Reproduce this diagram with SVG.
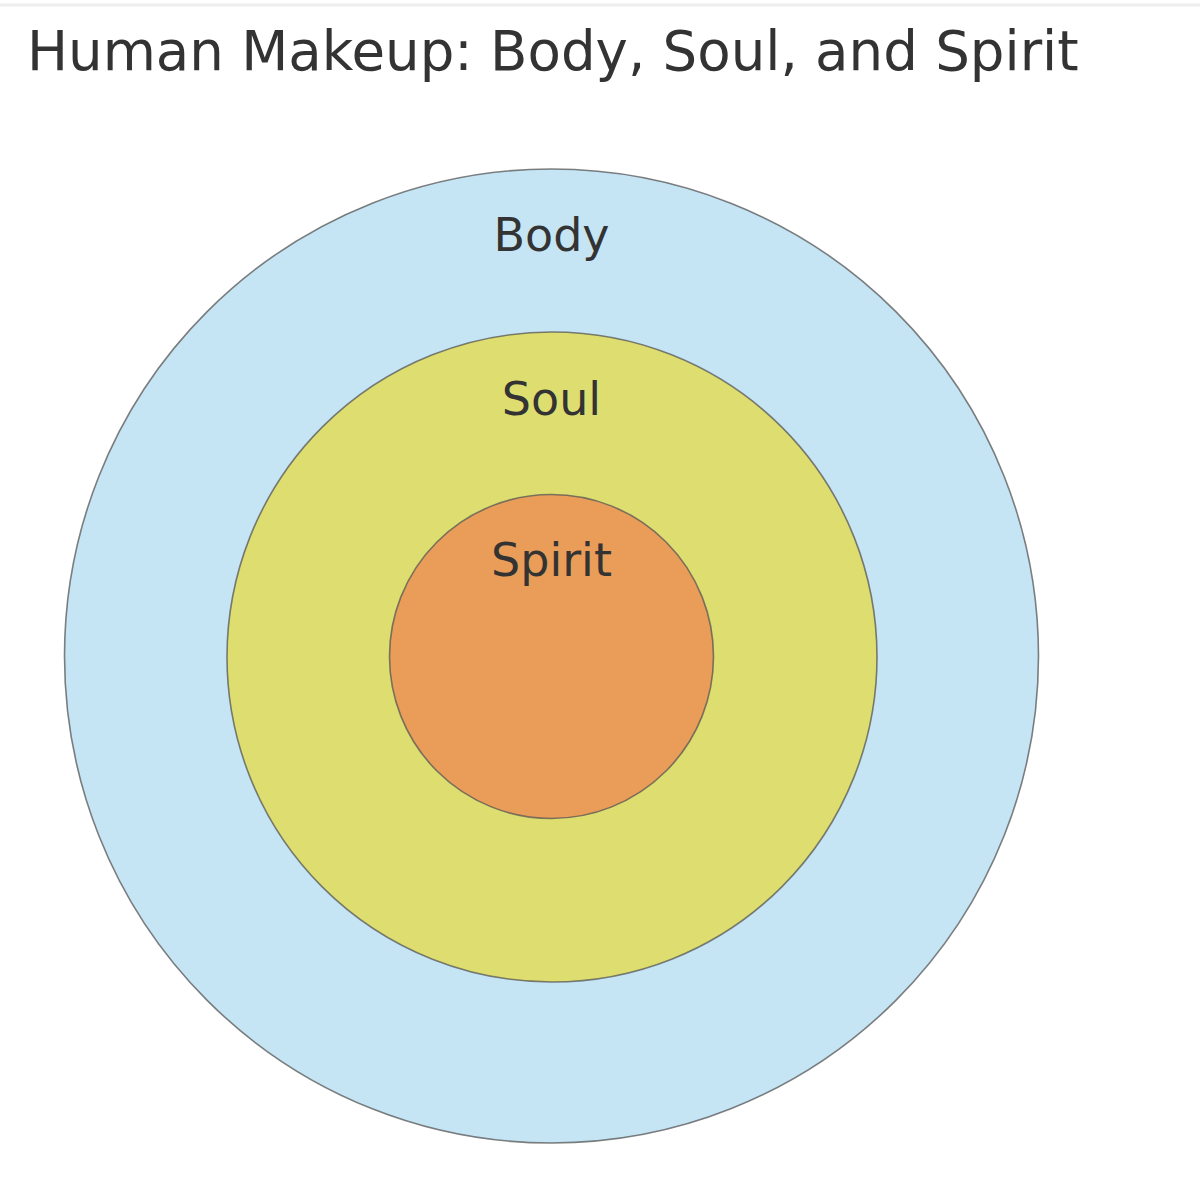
<svg xmlns="http://www.w3.org/2000/svg" width="1200" height="1184" viewBox="0 0 1200 1184">
<style>
.ring{stroke:#555;stroke-opacity:0.75;stroke-width:1.6}
.lbl{font-family:"DejaVu Sans","Liberation Sans",sans-serif;font-size:46px;fill:#333;text-anchor:middle}
.title{font-family:"DejaVu Sans","Liberation Sans",sans-serif;font-size:54.6px;fill:#333}
</style>
<rect x="0" y="0" width="1200" height="1184" fill="#fff"/>
<line x1="0" y1="5" x2="1200" y2="5" stroke="#eeeeee" stroke-width="3"/>
<text class="title" x="27" y="70">Human Makeup: Body, Soul, and Spirit</text>
<g id="body">
<circle class="ring" cx="551.5" cy="656" r="487" fill="#c6e5f4"/>
<text class="lbl" x="551.5" y="251">Body</text>
</g>
<g id="soul">
<circle class="ring" cx="552" cy="657" r="325" fill="#dede70"/>
<text class="lbl" x="551.5" y="415">Soul</text>
</g>
<g id="spirit">
<circle class="ring" cx="551.5" cy="656.5" r="162" fill="#e99d59"/>
<text class="lbl" x="551.5" y="576">Spirit</text>
</g>
<g id="connectors"/>
</svg>
